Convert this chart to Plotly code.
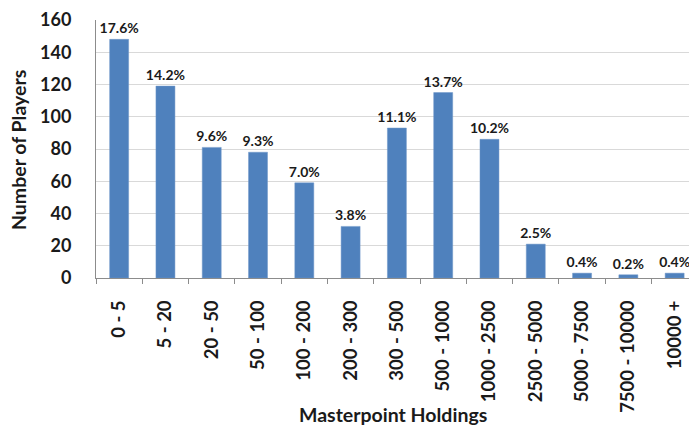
import plotly.graph_objects as go

categories = ["0 - 5", "5 - 20", "20 - 50", "50 - 100", "100 - 200", "200 - 300",
              "300 - 500", "500 - 1000", "1000 - 2500", "2500 - 5000",
              "5000 - 7500", "7500 - 10000", "10000 +"]
players = [148, 119, 81, 78, 59, 32, 93, 115, 86, 21, 3, 2, 3]
pct_labels = ["17.6%", "14.2%", "9.6%", "9.3%", "7.0%", "3.8%", "11.1%",
              "13.7%", "10.2%", "2.5%", "0.4%", "0.2%", "0.4%"]
y_ticks = [0, 20, 40, 60, 80, 100, 120, 140, 160]

FONT = "Lato"

fig = go.Figure(go.Bar(
    x=categories, y=players, text=pct_labels, textposition="outside",
    constraintext="none",
    textfont=dict(family=FONT, size=14, color="#1a1a1a", weight="bold"),
    cliponaxis=False,
    marker=dict(color="#4F81BD", line=dict(color="#6f97c8", width=0.5)),
    width=0.41,
))

fig.update_layout(
    width=689, height=425,
    margin=dict(l=96, r=0, t=20, b=147),
    plot_bgcolor="white", paper_bgcolor="white",
    showlegend=False,
    font=dict(family=FONT, color="#1a1a1a"),
)
fig.update_xaxes(
    range=[-0.5, 12.31],
    automargin=False,
    tickangle=-90,
    tickfont=dict(family=FONT, size=18.5, weight="bold"),
    showline=True, linecolor="#8c8c8c", linewidth=1,
    ticks="outside", ticklen=5, tickcolor="#8c8c8c", tickson="boundaries",
    ticklabelstandoff=14,
    showgrid=False,
)
fig.update_yaxes(
    range=[0, 160], tickvals=y_ticks,
    automargin=False,
    tickfont=dict(family=FONT, size=18, weight="bold"),
    showline=True, linecolor="#8c8c8c", linewidth=1,
    gridcolor="#d9d9d9", gridwidth=1,
    ticks="", ticklabelstandoff=20,
    zeroline=False,
)
fig.add_annotation(
    text="Number of Players", textangle=-90,
    x=(18 - 96) / 593, y=(278 - 150) / 258,
    xref="paper", yref="paper", showarrow=False,
    xanchor="center", yanchor="middle",
    font=dict(family=FONT, size=19.5, weight="bold"),
)
fig.add_annotation(
    text="Masterpoint Holdings", x=(393 - 96) / 593, y=-(414 - 278) / 258,
    xref="paper", yref="paper", showarrow=False, xanchor="center", yanchor="middle",
    font=dict(family=FONT, size=19.5, weight="bold"),
)

fig.write_html(
    "out.html",
    config={"displayModeBar": False},
    post_script="document.body.style.margin='0';document.body.style.overflow='hidden';",
)
